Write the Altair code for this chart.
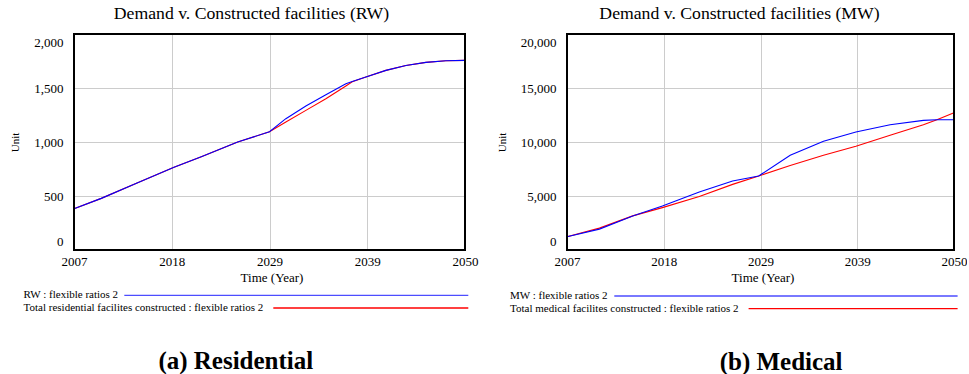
import altair as alt
import pandas as pd

SERIF = "Liberation Serif"
BLUE = "#0000ff"
RED = "#ff0000"

# Residential run (RW)
rw_years = [2007, 2010, 2014, 2018, 2021, 2025, 2028.5, 2030.3, 2032.5, 2034.7,
            2036.9, 2037.6, 2039.1, 2041.3, 2043.5, 2045.7, 2047.9, 2050]
rw_demand = [382, 478, 623, 767, 864, 1000, 1095, 1216, 1333, 1438,
             1540, 1560, 1602, 1663, 1709, 1737, 1753, 1756]
rw_constructed = [382, 478, 623, 767, 864, 1000, 1095, 1185, 1293, 1401,
                  1519, 1558, 1602, 1663, 1709, 1737, 1753, 1756]

# Medical run (MW)
mw_years = [2007, 2010.6, 2014.3, 2017.6, 2021.7, 2025.4, 2028.3, 2031.8,
            2035.5, 2039.1, 2042.9, 2046.6, 2048.1, 2050]
mw_demand = [1225, 1933, 3158, 4079, 5380, 6381, 6850, 8775,
             10064, 10921, 11602, 11998, 12062, 12062]
mw_constructed = [1225, 2025, 3158, 3925, 4950, 6077, 6850, 7827,
                  8775, 9604, 10617, 11602, 12062, 12700]

x_ticks = [2007, 2017.75, 2028.5, 2039.25, 2050]
rw_y_ticks = [0, 500, 1000, 1500, 2000]
mw_y_ticks = [0, 5000, 10000, 15000, 20000]

rw_labels = ["RW : flexible ratios 2",
             "Total residential facilites constructed : flexible ratios 2"]
mw_labels = ["MW : flexible ratios 2",
             "Total medical facilites constructed : flexible ratios 2"]

titles = ["Demand v. Constructed facilities (RW)",
          "Demand v. Constructed facilities (MW)"]
captions = ["(a) Residential", "(b) Medical"]


def panel(title, years, demand, constructed, labels, caption, y_ticks,
          width, height, unit_x, title_dx, legend_x, legend_y, line_starts,
          line_end, caption_x, caption_y):
    df = pd.DataFrame({
        "Year": years + years,
        "Value": demand + constructed,
        "Series": [labels[0]] * len(years) + [labels[1]] * len(years),
    })
    x = alt.X(
        "Year:Q",
        scale=alt.Scale(domain=[2007, 2050], nice=False, zero=False),
        axis=alt.Axis(
            values=x_ticks, labelExpr="'' + round(datum.value)",
            ticks=False, domain=False, grid=True, gridColor="#cccccc",
            labelFlush=False, labelOverlap=False,
            labelPadding=5, labelFontSize=13, labelFont=SERIF,
            labelColor="black", title="Time (Year)", titleFont=SERIF,
            titleFontSize=13, titleFontWeight="normal", titleColor="black",
            titleY=27.5, titleBaseline="middle", titleX=width / 2 + 2,
        ),
    )
    y = alt.Y(
        "Value:Q",
        scale=alt.Scale(domain=[0, y_ticks[-1]], nice=False),
        axis=alt.Axis(
            values=y_ticks, format=",d", ticks=False, domain=False,
            grid=True, gridColor="#cccccc", labelPadding=11,
            labelFontSize=13, labelFont=SERIF, labelColor="black",
            labelFlush=True, labelFlushOffset=-2,
            title="Unit", titleFont=SERIF, titleFontSize=11,
            titleFontWeight="normal", titleColor="black", titleAngle=270,
            titleX=unit_x, titleY=height / 2, titleAlign="center",
            titleBaseline="middle",
        ),
    )
    base = alt.Chart(df)
    built = base.transform_filter(alt.datum.Series == labels[1]).mark_line(
        color=RED, strokeWidth=1.1).encode(x=x, y=y)
    dem = base.transform_filter(alt.datum.Series == labels[0]).mark_line(
        color=BLUE, strokeWidth=1.1).encode(x=x, y=y)

    # black plot frame: four thin filled bands along the edges
    band = alt.Chart(pd.DataFrame({"label": [title]})).mark_rect(
        color="#000000", opacity=1)
    frame = [
        band.encode(x=alt.value(-1), x2=alt.value(width + 1),
                    y=alt.value(-1), y2=alt.value(1)),
        band.encode(x=alt.value(-1), x2=alt.value(width + 1),
                    y=alt.value(height - 1), y2=alt.value(height + 1)),
        band.encode(x=alt.value(-1), x2=alt.value(1),
                    y=alt.value(-1), y2=alt.value(height + 1)),
        band.encode(x=alt.value(width - 1), x2=alt.value(width + 1),
                    y=alt.value(-1), y2=alt.value(height + 1)),
    ]

    layers = [built, dem] + frame
    colors = ["#4d4dff", RED]
    for i, lab in enumerate(labels):
        one = alt.Chart(pd.DataFrame({"label": [lab]}))
        layers.append(one.mark_text(
            align="left", baseline="middle", font=SERIF, fontSize=11,
            color="black").encode(
            text="label:N", x=alt.value(legend_x), y=alt.value(legend_y[i])))
        layers.append(one.mark_rule(color=colors[i], strokeWidth=1.4).encode(
            x=alt.value(line_starts[i]), x2=alt.value(line_end),
            y=alt.value(legend_y[i])))
    cap = alt.Chart(pd.DataFrame({"label": [caption]}))
    layers.append(cap.mark_text(
        align="center", baseline="alphabetic", font=SERIF, fontSize=25,
        fontWeight="bold", color="black").encode(
        text="label:N", x=alt.value(caption_x), y=alt.value(caption_y)))

    return alt.layer(*layers).properties(
        width=width, height=height,
        title=alt.TitleParams(
            title, font=SERIF, fontSize=17.7, fontWeight="normal",
            color="black", anchor="middle", frame="group", dx=title_dx,
            offset=10,
        ),
    )


left = panel(titles[0], rw_years, rw_demand, rw_constructed, rw_labels,
             captions[0], rw_y_ticks, 391, 216, -58.5, -18, -50.4,
             [261.4, 274.0], [50.3, 199.3], 394.3, 161.8, 335)
right = panel(titles[1], mw_years, mw_demand, mw_constructed, mw_labels,
              captions[1], mw_y_ticks, 387, 216, -65, -21, -57,
              [262.0, 274.6], [47.3, 181.6], 390.6, 214.1, 335.5)

chart = alt.hconcat(left, right, spacing=18).properties(
    padding={"left": 9, "top": 5, "right": 0, "bottom": 0},
).configure(
    font=SERIF, background="white"
).configure_view(stroke=None)

chart.save("out.html", embed_options={"renderer": "svg", "actions": False})
